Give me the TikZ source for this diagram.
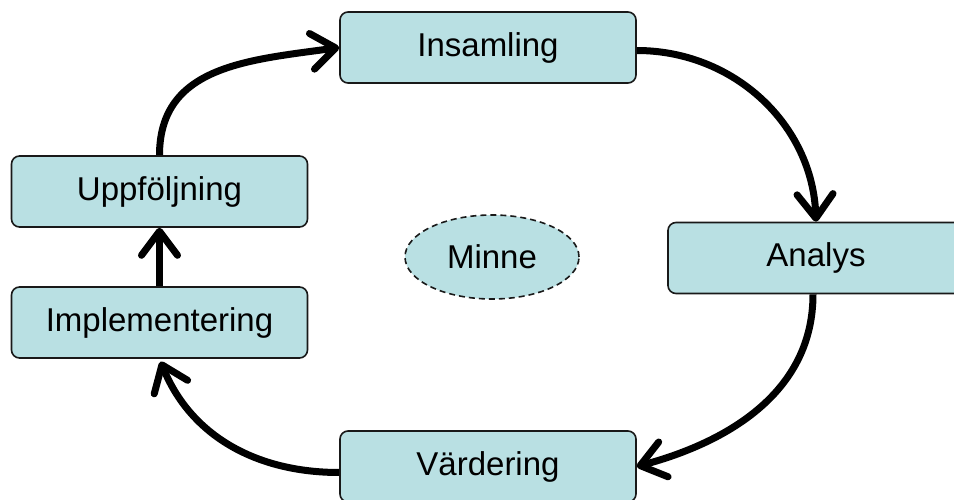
\documentclass[tikz,border=0pt]{standalone}
\usepackage{fontspec}
\setmainfont{Liberation Sans}
\usetikzlibrary{arrows.meta,shapes.geometric}
\definecolor{boxfill}{RGB}{185,224,227}
\begin{document}
\begin{tikzpicture}[x=1pt,y=1pt,
  stage/.style={draw=black!90, line width=1.6pt, fill=boxfill, rounded corners=8pt,
    minimum width=296pt, minimum height=71pt, inner sep=0pt,
    font=\fontsize{33}{39}\selectfont},
  memo/.style={ellipse, draw=black!90, line width=1.6pt, dash pattern=on 6pt off 4pt,
    fill=boxfill, minimum width=174pt, minimum height=84pt, inner sep=0pt,
    font=\fontsize{33}{39}\selectfont},
  flow/.style={line width=7pt, -{Straight Barb[length=24pt,width=36pt,round]}}
]
\useasboundingbox (0,0) rectangle (954,499);

% the cycle stages
\node[stage] (I)  at (488,451.5) {Insamling};
\node[stage] (A)  at (816,241)   {Analys};
\node[stage] (V)  at (488,32.5)  {Värdering};
\node[stage] (Im) at (159.5,176.5) {Implementering};
\node[stage] (U)  at (159.5,307.5) {Uppföljning};

% shared memory in the middle
\node[memo] (M) at (492,242) {Minne};

% connectors around the cycle
\draw[flow] (U.north) to[out=90,in=188,looseness=1.1] (I.west);
\draw[flow] ([yshift=-3pt]I.east) to[out=0,in=92] (A.north);
\draw[flow] ([xshift=-3pt]A.south) to[out=-90,in=15] (V.east);
\draw[flow, shorten >=3pt] ([yshift=-6pt]V.west) to[out=180,in=-68] (Im.south);
\draw[flow] (Im.north) -- (U.south);
\end{tikzpicture}
\end{document}
